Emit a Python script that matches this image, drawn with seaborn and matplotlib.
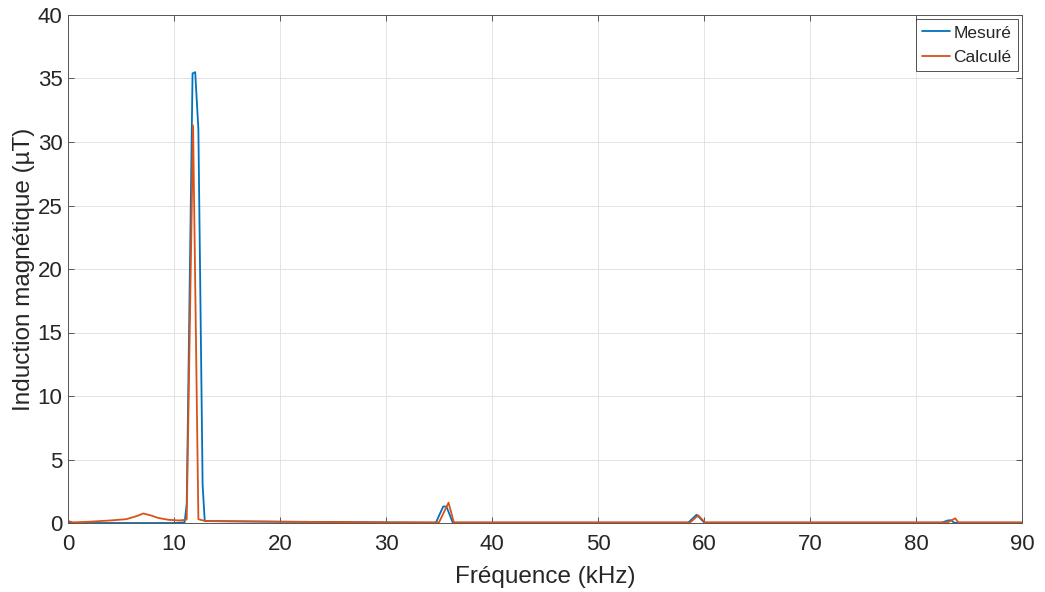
import pandas as pd
import matplotlib
matplotlib.use("Agg")
import matplotlib.pyplot as plt
import seaborn as sns

# Data (frequency in kHz, induction in µT)
mesure_freq = [0, 0.3, 1, 5, 10, 11.0, 11.2, 11.75, 12.0, 12.3, 12.7, 12.9, 13.5,
               20, 25, 30, 34.7, 35.4, 35.7, 36.3, 40, 50, 58.5, 59.3, 60.05,
               70, 82.4, 83.0, 83.3, 83.6, 90]
mesure_val = [0.1, 0.0, 0.0, 0.0, 0.0, 0.05, 1.5, 35.4, 35.5, 31.0, 3.0, 0.15, 0.15,
              0.1, 0.08, 0.05, 0.02, 1.3, 1.3, 0.02, 0.02, 0.02, 0.02, 0.65, 0.02,
              0.02, 0.02, 0.2, 0.22, 0.02, 0.02]

calcule_freq = [0, 0.5, 2, 4, 5.5, 6.5, 7.1, 7.8, 8.5, 9.5, 10.5, 11.1, 11.2, 11.8,
                12.3, 12.5, 13, 20, 30, 35.0, 35.9, 36.4, 40, 58.7, 59.45, 60.1,
                70, 83.0, 83.7, 84.0, 90]
calcule_val = [0.15, 0.05, 0.1, 0.2, 0.3, 0.55, 0.75, 0.6, 0.4, 0.25, 0.2, 0.25, 0.3,
               31.3, 0.3, 0.25, 0.15, 0.1, 0.05, 0.05, 1.6, 0.05, 0.05, 0.05, 0.6,
               0.05, 0.05, 0.05, 0.37, 0.05, 0.05]

series_names = ["Mesuré", "Calculé"]
colors = ["#0072BD", "#D95319"]

df = pd.concat([
    pd.DataFrame({"freq": mesure_freq, "val": mesure_val, "serie": series_names[0]}),
    pd.DataFrame({"freq": calcule_freq, "val": calcule_val, "serie": series_names[1]}),
], ignore_index=True)

sns.set_theme(style="whitegrid")
plt.rcParams["font.family"] = ["Liberation Sans", "DejaVu Sans"]

fig = plt.figure(figsize=(10.45, 5.92), dpi=100)
ax = fig.add_axes([68 / 1045, 1 - 523 / 592, (1022 - 68) / 1045, (523 - 15) / 592])

sns.lineplot(data=df, x="freq", y="val", hue="serie", hue_order=series_names,
             palette=dict(zip(series_names, colors)), linewidth=1.3,
             estimator=None, sort=False, ax=ax)

ax.set_xlim(0, 90)
ax.set_ylim(0, 40)
ax.set_xticks(range(0, 91, 10))
ax.set_yticks(range(0, 41, 5))
ax.set_xlabel("Fréquence (kHz)", fontsize=17.5, color="#262626", labelpad=8)
ax.set_ylabel("Induction magnétique (µT)", fontsize=17.5, color="#262626", labelpad=2)

ax.grid(True, color="#e3e3e3", linewidth=0.7)
for s in ax.spines.values():
    s.set_visible(True)
    s.set_color("#555555")
    s.set_linewidth(0.7)
ax.tick_params(axis="both", direction="in", length=4, width=0.7, color="#555555",
               labelsize=16, labelcolor="#262626", top=True, right=True,
               bottom=True, left=True, pad=4)
ax.tick_params(axis="x", pad=8)

leg = ax.legend(loc="upper right", fontsize=12.5, frameon=True, fancybox=False,
                edgecolor="#262626", handlelength=1.6, handletextpad=0.2,
                borderpad=0.35, labelspacing=0.55, borderaxespad=0.25)
leg.get_frame().set_linewidth(0.7)
leg.set_title(None)

fig.savefig("out.png", dpi=100)
